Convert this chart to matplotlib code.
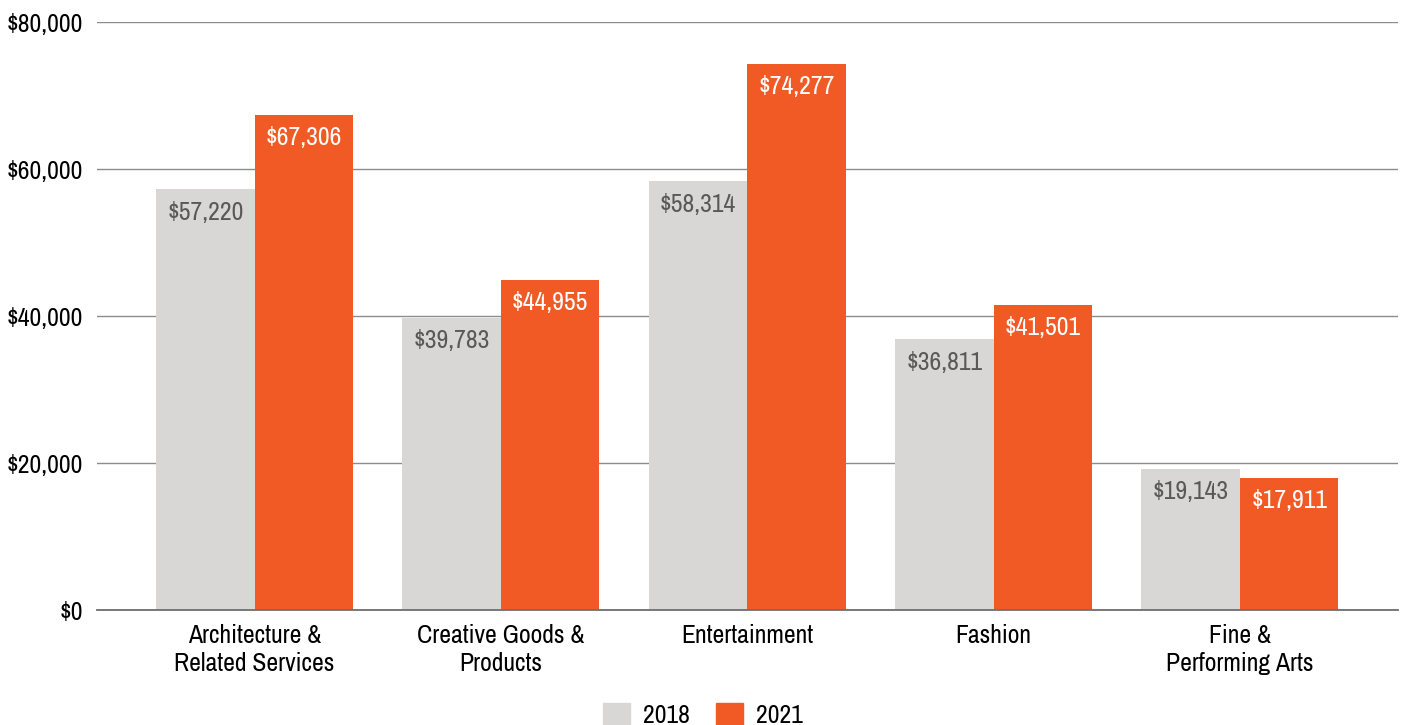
import numpy as np
import matplotlib.pyplot as plt
import matplotlib.ticker as ticker
from matplotlib.patches import Patch
from matplotlib import font_manager

# look for a narrow / condensed family, the reference uses one
narrow = None
for f in font_manager.fontManager.ttflist:
    if 'Condensed' in f.name or 'Narrow' in f.name:
        narrow = f.name
        break
fams = ([narrow] if narrow else []) + ['Roboto', 'DejaVu Sans']
plt.rcParams['font.family'] = fams
plt.rcParams['font.weight'] = 'light'
fs = 18.5 if narrow else 16

categories = ['Architecture &\nRelated Services', 'Creative Goods &\nProducts',
              'Entertainment', 'Fashion', 'Fine &\nPerforming Arts']
years = ['2018', '2021']
values_2018 = [57220, 39783, 58314, 36811, 19143]
values_2021 = [67306, 44955, 74277, 41501, 17911]

grey = '#d8d7d5'
orange = '#f15a24'

fig = plt.figure(figsize=(14.06, 7.25), dpi=100)
ax = fig.add_axes([0.069, 0.1586, 0.925, 0.811])

x = np.arange(len(categories))
w = 0.4
b1 = ax.bar(x - w / 2, values_2018, width=w, color=grey, zorder=2)
b2 = ax.bar(x + w / 2, values_2021, width=w, color=orange, zorder=2)

for bars, vals, col in [(b1, values_2018, '#595959'), (b2, values_2021, 'white')]:
    for b, v in zip(bars, vals):
        ax.annotate('${:,}'.format(v), (b.get_x() + b.get_width() / 2, v),
                    xytext=(0, -8), textcoords='offset points',
                    ha='center', va='top', color=col, fontsize=fs, zorder=3)

ax.set_xlim(-0.64, 4.64)
ax.set_ylim(0, 80000)
ax.yaxis.set_major_locator(ticker.MultipleLocator(20000))
ax.yaxis.set_major_formatter(ticker.FuncFormatter(lambda v, p: '${:,.0f}'.format(v)))
ax.grid(axis='y', color='#8c8c8c', linewidth=1.0, zorder=0)
ax.set_axisbelow(True)
for s in ['top', 'right', 'left']:
    ax.spines[s].set_visible(False)
ax.spines['bottom'].set_color('#6e6e6e')
ax.spines['bottom'].set_linewidth(1.3)
ax.set_xticks(x)
ax.set_xticklabels(categories, fontsize=fs, linespacing=1.25)
ax.tick_params(axis='x', length=0, pad=10)
ax.tick_params(axis='y', length=0, pad=10, labelsize=fs)

handles = [Patch(color=grey), Patch(color=orange)]
fig.legend(handles, years, loc='lower center', ncol=2, frameon=False,
           fontsize=fs, bbox_to_anchor=(0.5, -0.035), handlelength=1.05,
           handleheight=1.05, columnspacing=1.05, handletextpad=0.5)

fig.savefig('out.png', dpi=100)
